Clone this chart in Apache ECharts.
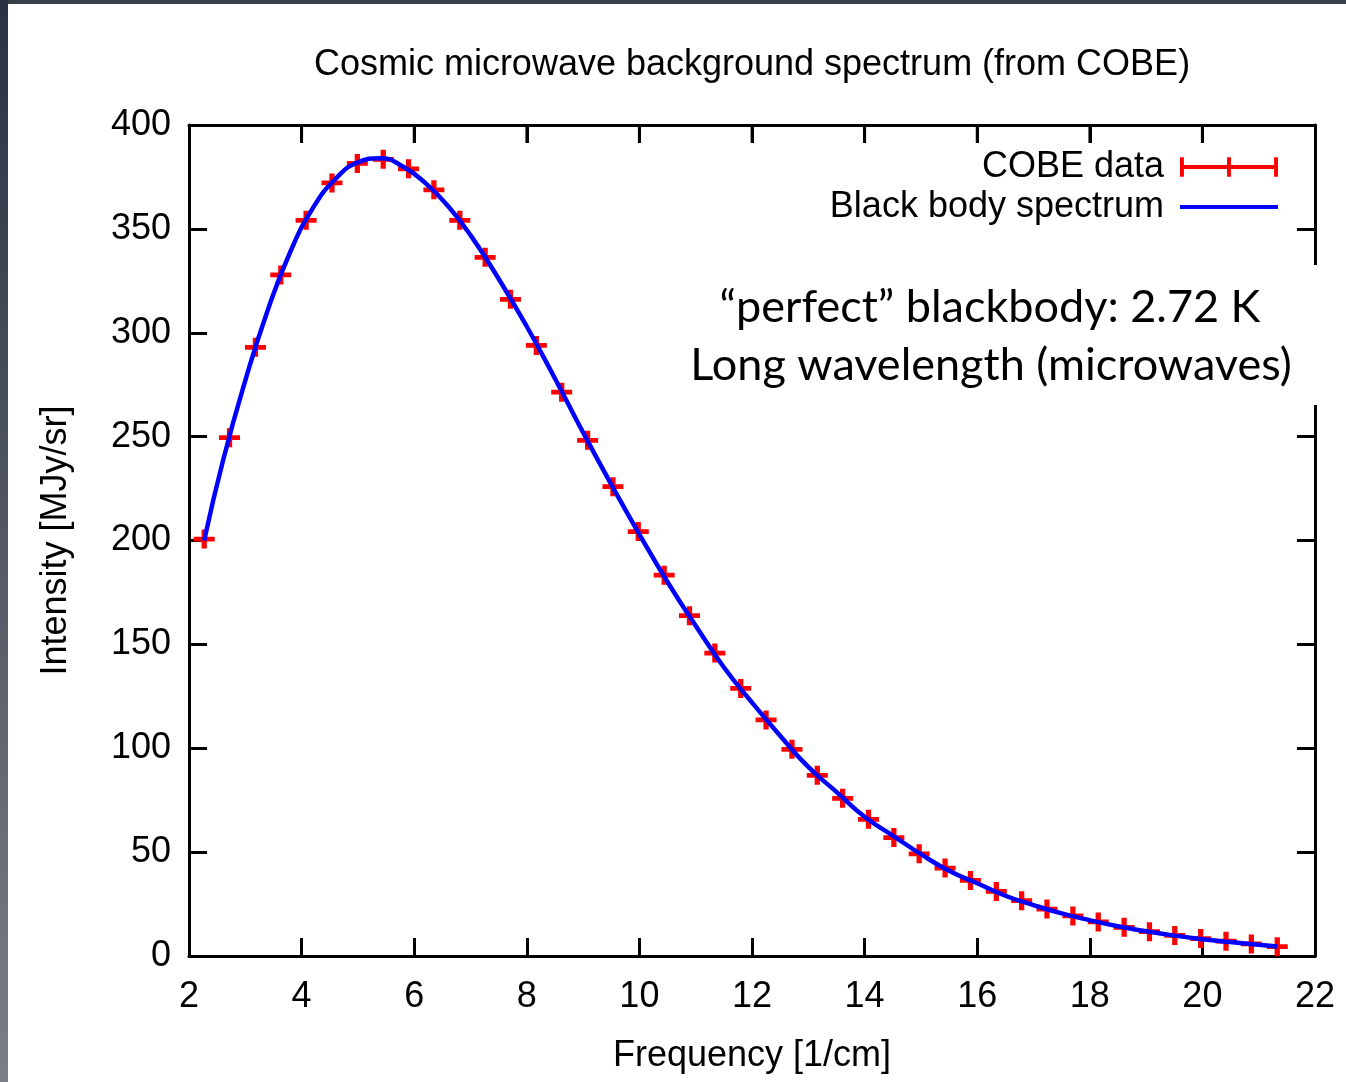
<!DOCTYPE html>
<html>
<head>
<meta charset="utf-8">
<script src="https://cdn.jsdelivr.net/npm/echarts@6/dist/echarts.min.js"></script>
<style>
  html, body { margin: 0; padding: 0; background: #fff; }
  #main { width: 1346px; height: 1082px; }
</style>
</head>
<body>
<div id="main"></div>
<script>
// COBE FIRAS points (frequency in 1/cm, intensity in MJy/sr)
var freq = [2.27, 2.72, 3.18, 3.63, 4.08, 4.54, 4.99, 5.45, 5.90, 6.35, 6.81, 7.26, 7.71, 8.17,
            8.62, 9.08, 9.53, 9.98, 10.44, 10.89, 11.34, 11.80, 12.25, 12.71, 13.16, 13.61, 14.07,
            14.52, 14.97, 15.43, 15.88, 16.34, 16.79, 17.24, 17.70, 18.15, 18.61, 19.06, 19.51,
            19.97, 20.42, 20.87, 21.33];
var intensity = [200.7, 249.5, 293.0, 327.8, 354.1, 372.1, 381.5, 383.5, 378.9, 368.8, 354.1, 336.3, 316.1, 293.9,
                 271.4, 248.2, 225.9, 204.3, 183.3, 163.8, 145.8, 128.8, 113.6, 99.5, 87.0, 75.9, 65.8,
                 57.0, 49.2, 42.3, 36.4, 31.1, 26.6, 22.6, 19.3, 16.4, 13.8, 11.7, 9.9,
                 8.4, 7.1, 5.8, 4.5];

// blue curve
var curveX = [2.27, 2.6, 3.0, 3.4, 3.8, 4.2, 4.6, 5.0, 5.4, 5.8, 6.2, 6.6, 7.0, 7.5, 8.0, 8.5, 9.0,
              9.5, 10.0, 10.5, 11.0, 11.5, 12.0, 12.5, 13.0, 13.5, 14.0, 14.5, 15.0, 15.5, 16.0,
              16.5, 17.0, 17.5, 18.0, 18.5, 19.0, 19.5, 20.0, 20.5, 21.0, 21.33];
var curveY = [200, 238, 277, 311, 339, 360, 374, 382, 384, 380, 372, 361, 347, 326, 303, 278, 252,
              227, 203, 180, 159, 139, 122, 106, 91, 79, 67, 58, 49, 41, 35,
              29, 24.5, 20.5, 17.2, 14.3, 11.9, 9.8, 8.1, 6.7, 5.4, 4.6];

var xTicks = { min: 2, max: 22, step: 2 };
var yTicks = { min: 0, max: 400, step: 50 };

var cobePoints = freq.map(function (f, i) { return [f, intensity[i]]; });
var curvePoints = curveX.map(function (f, i) { return [f, curveY[i]]; });

// mirrored tick marks hanging from the top edge of the box
var topTicks = [];
for (var v = xTicks.min + xTicks.step; v < xTicks.max; v += xTicks.step) {
    topTicks.push([v, yTicks.max]);
}

var font = 'Liberation Sans';
var plus = 'path://M0,7.5L20,7.5L20,12.5L0,12.5Z M7.5,0L12.5,0L12.5,20L7.5,20Z';
var errbar = 'path://M0,0L4,0L4,20L0,20Z M48,0L52,0L52,20L48,20Z M96,0L100,0L100,20L96,20Z M0,8L100,8L100,12L0,12Z';
var bar = 'path://M0,0L100,0L100,4L0,4Z';

// gnuplot style box: inward ticks
function frame() { return { show: true, onZero: false, lineStyle: { color: '#000', width: 3 } }; }
function tick() { return { show: true, inside: true, length: 18, lineStyle: { color: '#000', width: 3 } }; }
function label(margin) { return { show: true, fontFamily: font, fontSize: 36, color: '#000', margin: margin }; }
function mirrorLabel() { return { show: true, fontSize: 12, color: '#fff' }; }

var myChart = echarts.init(document.getElementById('main'));
myChart.setOption({
    backgroundColor: '#fff',
    animation: false,
    title: {
        text: 'Cosmic microwave background spectrum (from COBE)',
        left: 747,
        textAlign: 'center',
        top: 42,
        textStyle: { fontFamily: font, fontWeight: 'normal', fontSize: 36, color: '#000' }
    },
    legend: {
        orient: 'vertical',
        right: 63,
        top: 144,
        align: 'right',
        itemWidth: 98,
        itemHeight: 20,
        itemGap: 4,
        symbolKeepAspect: true,
        textStyle: { fontFamily: font, fontSize: 36, color: '#000', padding: [0, 11, 0, 0] },
        data: [
            { name: 'COBE data', icon: errbar, itemStyle: { color: '#ff0000' } },
            { name: 'Black body spectrum', icon: bar, itemStyle: { color: '#0000ff' } }
        ]
    },
    grid: { left: 189, right: 31, top: 125, bottom: 126 },
    xAxis: [{
        type: 'value',
        min: xTicks.min, max: xTicks.max, interval: xTicks.step,
        position: 'bottom',
        axisLine: frame(), axisTick: tick(), splitLine: { show: false },
        axisLabel: label(23),
        name: 'Frequency [1/cm]',
        nameLocation: 'middle',
        nameGap: 82,
        nameTextStyle: { fontFamily: font, fontSize: 36, color: '#000' }
    }, {
        type: 'value',
        min: xTicks.min, max: xTicks.max, interval: xTicks.step,
        position: 'top',
        axisLine: frame(), axisTick: tick(), splitLine: { show: false },
        axisLabel: mirrorLabel()
    }],
    yAxis: [{
        type: 'value',
        min: yTicks.min, max: yTicks.max, interval: yTicks.step,
        position: 'left',
        axisLine: frame(), axisTick: tick(), splitLine: { show: false },
        axisLabel: label(18),
        name: 'Intensity [MJy/sr]',
        nameLocation: 'middle',
        nameGap: 115,
        nameTextStyle: { fontFamily: font, fontSize: 36, color: '#000' }
    }, {
        type: 'value',
        min: yTicks.min, max: yTicks.max, interval: yTicks.step,
        position: 'right',
        axisLine: frame(), axisTick: tick(), splitLine: { show: false },
        axisLabel: mirrorLabel()
    }],
    series: [{
        name: 'COBE data',
        type: 'scatter',
        data: cobePoints,
        xAxisIndex: 0, yAxisIndex: 0,
        symbol: plus,
        symbolSize: [21, 19],
        itemStyle: { color: '#ff0000', opacity: 1 },
        z: 2
    }, {
        name: 'Black body spectrum',
        type: 'line',
        data: curvePoints,
        xAxisIndex: 1, yAxisIndex: 1,
        smooth: true,
        symbol: 'none',
        lineStyle: { color: '#0000ff', width: 4.5 },
        itemStyle: { color: '#0000ff' },
        z: 3
    }, {
        name: 'top ticks',
        type: 'scatter',
        data: topTicks,
        xAxisIndex: 0, yAxisIndex: 0,
        symbol: 'rect',
        symbolSize: [3, 18],
        symbolOffset: [0, 9],
        clip: false,
        silent: true,
        itemStyle: { color: '#000' },
        z: 4
    }],
    graphic: [
        // slide frame around the screenshot
        { type: 'rect', x: 0, y: 0, shape: { width: 1346, height: 4 }, style: { fill: '#393e4a' }, z: 100 },
        {
            type: 'rect', x: 0, y: 0, shape: { width: 8, height: 1082 },
            style: {
                fill: new echarts.graphic.LinearGradient(0, 0, 0, 1, [
                    { offset: 0, color: '#2b3142' }, { offset: 1, color: '#7b7e86' }
                ])
            },
            z: 100
        },
        // pasted annotation box
        { type: 'rect', x: 676, y: 265, shape: { width: 650, height: 140 }, style: { fill: '#fff' }, z: 50 },
        {
            type: 'text', z: 51, x: 990, y: 307,
            style: { text: '\u201cperfect\u201d blackbody: 2.72 K', fontFamily: 'Lato', fontSize: 45, fill: '#000',
                     align: 'center', verticalAlign: 'middle' }
        },
        {
            type: 'text', z: 51, x: 991, y: 365,
            style: { text: 'Long wavelength (microwaves)', fontFamily: 'Lato', fontSize: 45, fill: '#000',
                     align: 'center', verticalAlign: 'middle' }
        }
    ]
});
</script>
</body>
</html>
